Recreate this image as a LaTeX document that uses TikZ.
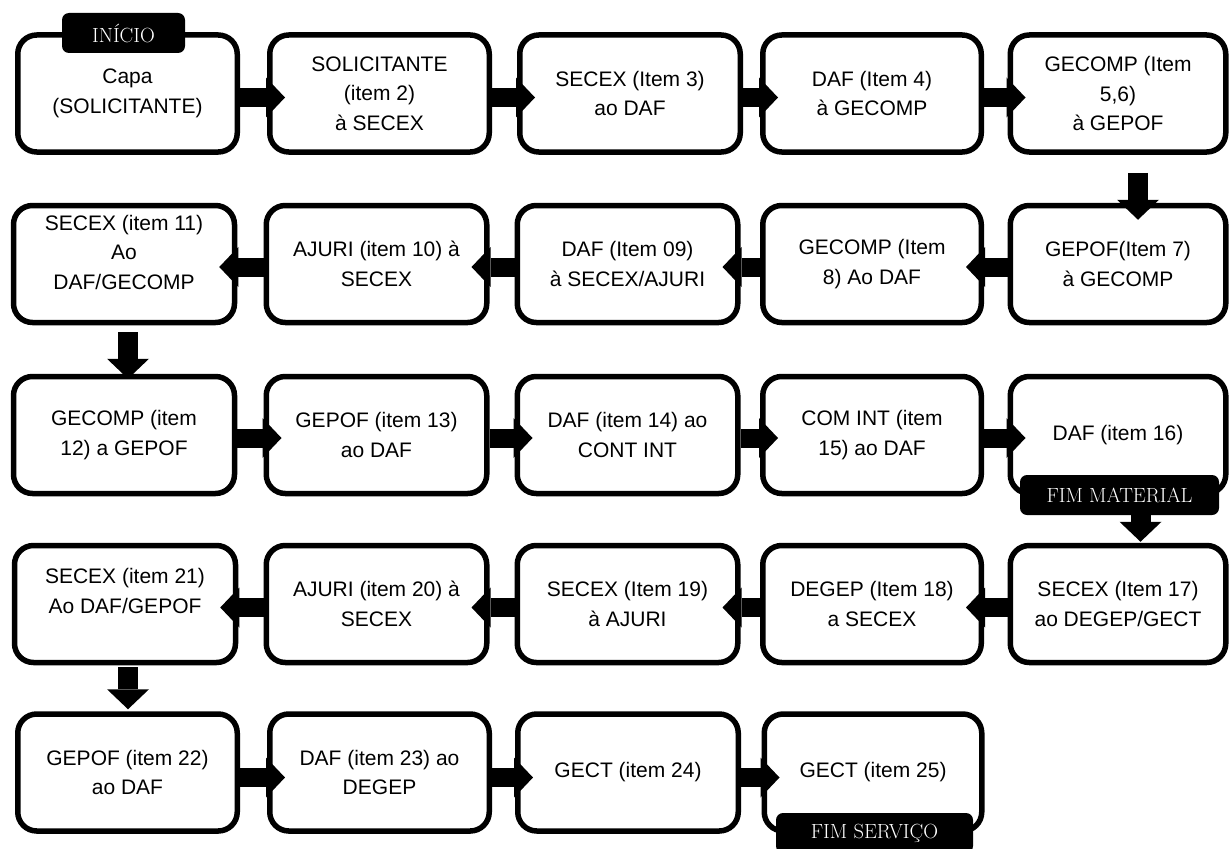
\documentclass[tikz,border=0pt]{standalone}
\usepackage{fontspec}
\newfontfamily\stagefont{Liberation Sans}
\usetikzlibrary{arrows.meta,calc}
\begin{document}
\begin{tikzpicture}[x=1pt,y=-1pt,
  stage/.style={draw=black, line width=5.5pt, rounded corners=19pt, fill=white,
    inner sep=0pt, align=center, minimum height=117pt,
    font=\stagefont\fontsize{21}{29.5}\selectfont},
  stagetext/.style={inner sep=0pt, align=center,
    font=\stagefont\fontsize{21}{29.5}\selectfont},
  tag/.style={fill=black, text=white, rounded corners=7pt, inner sep=0pt,
    minimum height=40pt, font=\fontsize{20.5}{22}\selectfont},
  flow/.style={line width=19pt, -{Triangle[width=40pt,length=19pt,line width=0pt]}},
  drop/.style={line width=20pt, -{Triangle[width=42pt,length=20pt,line width=0pt]}},
]
\useasboundingbox (0,0) rectangle (1230,848);
\clip (0,0) rectangle (1230,848);

% first row, left to right
\node[stage, minimum width=219.5pt] (n1) at (127.5,93.5) {Capa\\(SOLICITANTE)};
\node[stage, minimum width=219.5pt] (n2) at (379.5,93.5) {SOLICITANTE\\(item 2)\\à SECEX};
\node[stage, minimum width=220.5pt] (n3) at (630,93.5) {SECEX (Item 3)\\ao DAF};
\node[stage, minimum width=218.5pt] (n4) at (872,93.5) {DAF (Item 4)\\à GECOMP};
\node[stage, minimum width=215.5pt] (n5) at (1118,93.5) {GECOMP (Item\\5,6)\\à GEPOF};

% second row, right to left
\node[stage, minimum width=215.5pt] (n6) at (1118,264) {GEPOF(Item 7)\\à GECOMP};
\node[stage, minimum width=218.5pt] (n7) at (872,264) {GECOMP (Item\\8) Ao DAF};
\node[stage, minimum width=220.5pt] (n8) at (627.5,264) {DAF (Item 09)\\à SECEX/AJURI};
\node[stage, minimum width=220.5pt] (n9) at (376.5,264) {AJURI (item 10) à\\SECEX};
\node[stage, minimum width=221pt] (n10) at (124,264) {};
\node[stagetext] (n10t) at ($(n10.center)+(0,-12)$) {SECEX (item 11)\\Ao\\DAF/GECOMP};

% third row, left to right
\node[stage, minimum width=221pt] (n11) at (124,435) {GECOMP (item\\12) a GEPOF};
\node[stage, minimum width=220.5pt] (n12) at (376.5,435) {GEPOF (item 13)\\ao DAF};
\node[stage, minimum width=220.5pt] (n13) at (627.5,435) {DAF (item 14) ao\\CONT INT};
\node[stage, minimum width=218.5pt] (n14) at (872,435) {COM INT (item\\15) ao DAF};
\node[stage, minimum width=215.5pt] (n15) at (1118,435) {DAF (item 16)};

% fourth row, right to left
\node[stage, minimum width=215.5pt] (n16) at (1118,604) {SECEX (Item 17)\\ao DEGEP/GECT};
\node[stage, minimum width=218.5pt] (n17) at (872,604) {DEGEP (Item 18)\\a SECEX};
\node[stage, minimum width=220.5pt] (n18) at (627.5,604) {SECEX (Item 19)\\à AJURI};
\node[stage, minimum width=220.5pt] (n19) at (376.5,604) {AJURI (item 20) à\\SECEX};
\node[stage, minimum width=221pt] (n20) at (125,604) {};
\node[stagetext] (n20t) at ($(n20.center)+(0,-13)$) {SECEX (item 21)\\Ao DAF/GEPOF};

% fifth row, left to right
\node[stage, minimum width=219.5pt] (n21) at (127.5,772.5) {GEPOF (item 22)\\ao DAF};
\node[stage, minimum width=219.5pt] (n22) at (379.5,772.5) {DAF (item 23) ao\\DEGEP};
\node[stage, minimum width=220.5pt] (n23) at (628,772.5) {GECT (item 24)};
\node[stage, minimum width=217.5pt] (n24) at (873,772.5) {GECT (item 25)};

% horizontal connectors
\draw[flow] ($(n1.east)+(0,4)$) -- ($(n2.west)+(18,4)$);
\draw[flow] ($(n2.east)+(0,4)$) -- ($(n3.west)+(18,4)$);
\draw[flow] ($(n3.east)+(0,4)$) -- ($(n4.west)+(18,4)$);
\draw[flow] ($(n4.east)+(0,4)$) -- ($(n5.west)+(18,4)$);

\draw[flow] ($(n6.west)+(0,3)$) -- ($(n7.east)+(-18,3)$);
\draw[flow] ($(n7.west)+(0,3)$) -- ($(n8.east)+(-18,3)$);
\draw[flow] ($(n8.west)+(0,3)$) -- ($(n9.east)+(-18,3)$);
\draw[flow] ($(n9.west)+(0,3)$) -- ($(n10.east)+(-18,3)$);

\draw[flow] ($(n11.east)+(0,3)$) -- ($(n12.west)+(18,3)$);
\draw[flow] ($(n12.east)+(0,3)$) -- ($(n13.west)+(18,3)$);
\draw[flow] ($(n13.east)+(0,3)$) -- ($(n14.west)+(18,3)$);
\draw[flow] ($(n14.east)+(0,3)$) -- ($(n15.west)+(18,3)$);

\draw[flow] ($(n16.west)+(0,3.5)$) -- ($(n17.east)+(-18,3.5)$);
\draw[flow] ($(n17.west)+(0,3.5)$) -- ($(n18.east)+(-18,3.5)$);
\draw[flow] ($(n18.west)+(0,3.5)$) -- ($(n19.east)+(-18,3.5)$);
\draw[flow] ($(n19.west)+(0,3.5)$) -- ($(n20.east)+(-18,3.5)$);

\draw[flow] ($(n21.east)+(0,5)$) -- ($(n22.west)+(18,5)$);
\draw[flow] ($(n22.east)+(0,5)$) -- ($(n23.west)+(18,5)$);
\draw[flow] ($(n23.east)+(0,5)$) -- ($(n24.west)+(18,5)$);

% start and end tags
\node[tag, minimum width=123pt] (start) at (123.5,33) {INÍCIO};
\node[tag, minimum width=199pt] (endM) at (1119.5,495) {FIM MATERIAL};
\node[tag, minimum width=197pt] (endS) at (874.5,833) {FIM SERVIÇO};

% vertical connectors between rows
\draw[drop] ($(n5.south)+(20,18)$) -- ($(n5.south |- n6.north)+(20,17)$);
\draw[drop] ($(n10.south)+(4,7)$) -- ($(n10.south |- n11.north)+(4,5)$);
\draw[drop] ($(endM.south)+(21,0)$) -- ($(endM.south |- n16.north)+(21,-1)$);
\draw[drop] ($(n20.south)+(3,2)$) -- ($(n20.south |- n21.north)+(3,-2)$);
\end{tikzpicture}
\end{document}
